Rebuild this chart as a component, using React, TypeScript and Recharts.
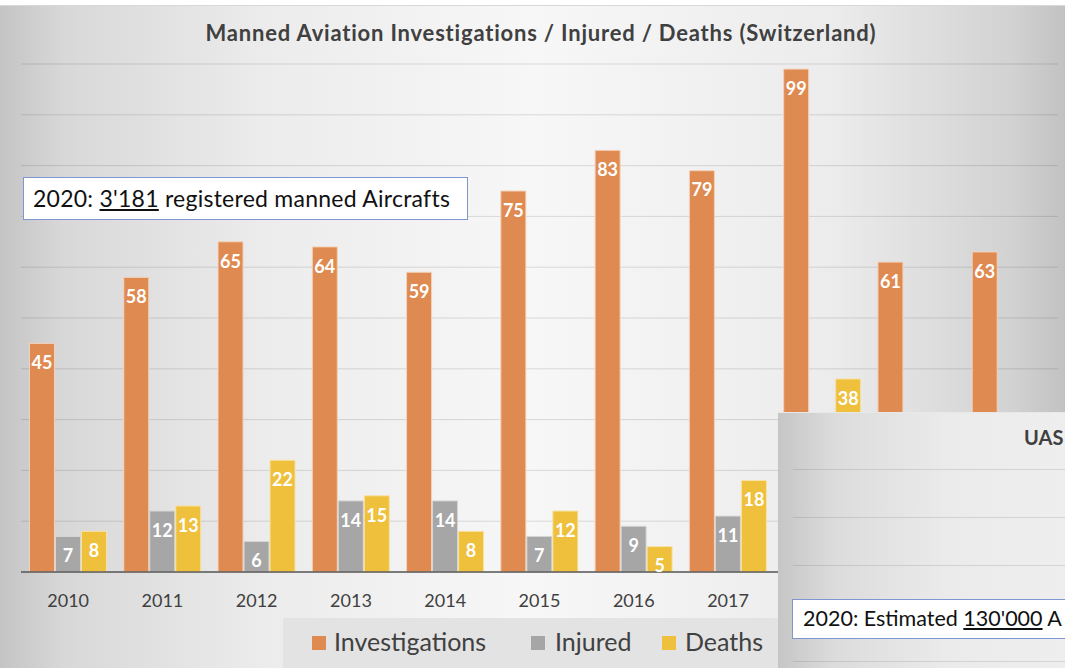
import { BarChart, Bar, XAxis, YAxis, CartesianGrid, LabelList } from 'recharts';

const years = ['2010', '2011', '2012', '2013', '2014', '2015', '2016', '2017', '2018', '2019', '2020'];
const investigations = [45, 58, 65, 64, 59, 75, 83, 79, 99, 61, 63];
// values hidden behind the UAS chart are left empty
const injured = [7, 12, 6, 14, 14, 7, 9, 11, null, null, null];
const deaths = [8, 13, 22, 15, 8, 12, 5, 18, 38, null, null];
const yTicks = [0, 10, 20, 30, 40, 50, 60, 70, 80, 90, 100];
// year labels covered by the UAS chart in the screenshot
const hiddenYears = ['2018', '2019', '2020'];

const legendItems = [
  { name: 'Investigations', color: '#df8a50', left: 29, textLeft: 51 },
  { name: 'Injured', color: '#a6a6a6', left: 248, textLeft: 272 },
  { name: 'Deaths', color: '#eec03c', left: 379, textLeft: 402 },
];

const data = years.map((year, i) => ({
  year,
  investigations: investigations[i],
  injured: injured[i],
  deaths: deaths[i],
}));

const FONT = 'Lato, "Open Sans", sans-serif';

function YearTick({ x, y, payload }: any) {
  if (hiddenYears.includes(payload.value)) return null;
  return (
    <text x={x} y={y + 14} dy="0.71em" textAnchor="middle" fill="#404040" fontSize={18} fontFamily={FONT}>
      {payload.value}
    </text>
  );
}

export default function App() {
  const label = { fill: '#fff', fontSize: 18, fontWeight: 700, fontFamily: FONT };
  return (
    <div
      style={{
        position: 'fixed',
        left: 0,
        top: 0,
        width: 1065,
        height: 668,
        overflow: 'hidden',
        background: '#fff',
        fontFamily: FONT,
      }}
    >
      {/* chart area background */}
      <div
        style={{
          position: 'absolute',
          left: 0,
          top: 5,
          width: 1065,
          height: 663,
          borderTop: '1px solid #d8d8d8',
          background:
            'linear-gradient(to right, #c4c4c4 0%, #d8d8d8 6%, #ececec 25%, #f7f7f7 50%, #ececec 78%, #d2d2d2 95%, #c2c2c2 100%)',
        }}
      />
      <div style={{ position: 'absolute', left: 0, top: 0 }}>
        <BarChart
          width={1065}
          height={668}
          data={data}
          margin={{ top: 64, right: 7, bottom: 66, left: 21 }}
          barCategoryGap="9%"
          barGap={1}
        >
          <CartesianGrid vertical={false} stroke="rgba(0,0,0,0.12)" />
          <YAxis hide domain={[0, 100]} ticks={yTicks} />
          <XAxis
            dataKey="year"
            height={30}
            tickLine={false}
            axisLine={{ stroke: '#595959', strokeWidth: 1.5 }}
            tick={<YearTick />}
            interval={0}
          />
          <Bar dataKey="investigations" fill="#df8a50" stroke="#f3d2bb" strokeWidth={1} isAnimationActive={false}>
            <LabelList dataKey="investigations" position="insideTop" offset={13} style={label} />
          </Bar>
          <Bar dataKey="injured" fill="#a6a6a6" stroke="#d6d6d6" strokeWidth={1} isAnimationActive={false}>
            <LabelList dataKey="injured" position="insideTop" offset={13} style={label} />
          </Bar>
          <Bar dataKey="deaths" fill="#eec03c" stroke="#f7e2a6" strokeWidth={1} isAnimationActive={false}>
            <LabelList dataKey="deaths" position="insideTop" offset={13} style={label} />
          </Bar>
        </BarChart>
      </div>

      {/* title */}
      <div
        style={{
          position: 'absolute',
          left: 0,
          top: 19,
          width: 1082,
          textAlign: 'center',
          fontSize: 22,
          letterSpacing: 0.8,
          fontWeight: 700,
          color: '#404040',
        }}
      >
        Manned Aviation Investigations / Injured / Deaths (Switzerland)
      </div>

      {/* annotation */}
      <div
        style={{
          position: 'absolute',
          left: 23,
          top: 177,
          width: 445,
          height: 43,
          boxSizing: 'border-box',
          border: '1.5px solid #7f97cf',
          background: '#fff',
          fontSize: 23,
          letterSpacing: 0.25,
          lineHeight: '40px',
          paddingLeft: 9,
          color: '#111',
          whiteSpace: 'nowrap',
        }}
      >
        2020: <span style={{ textDecoration: 'underline' }}>3'181</span> registered manned Aircrafts
      </div>

      {/* legend */}
      <div
        style={{
          position: 'absolute',
          left: 283,
          top: 618,
          width: 495,
          height: 50,
          background: '#e3e3e3',
          fontSize: 25,
          color: '#404040',
        }}
      >
        {legendItems.map((item) => (
          <div key={item.name}>
            <div style={{ position: 'absolute', left: item.left, top: 18, width: 14, height: 14, background: item.color }} />
            <span style={{ position: 'absolute', left: item.textLeft, top: 8, lineHeight: '30px' }}>{item.name}</span>
          </div>
        ))}
      </div>

      {/* overlapping UAS chart */}
      <div
        style={{
          position: 'absolute',
          left: 778,
          top: 412,
          width: 287,
          height: 256,
          overflow: 'hidden',
          background: 'linear-gradient(to right, #c6c6c6 0%, #dcdcdc 20%, #ebebeb 60%, #eeeeee 100%)',
          borderTop: '1px solid #e8e8e8',
        }}
      >
        {[56, 104, 152, 200, 248].map((y) => (
          <div
            key={y}
            style={{ position: 'absolute', left: 15, right: 0, top: y, height: 1, background: 'rgba(0,0,0,0.1)' }}
          />
        ))}
        <div
          style={{ position: 'absolute', left: 246, top: 12, fontSize: 20, fontWeight: 700, color: '#404040', whiteSpace: 'nowrap' }}
        >
          UAS
        </div>
        <div
          style={{
            position: 'absolute',
            left: 14,
            top: 186,
            width: 300,
            height: 40,
            boxSizing: 'border-box',
            border: '1.5px solid #7f97cf',
            background: '#fff',
            fontSize: 21.5,
            lineHeight: '37px',
            paddingLeft: 10,
            color: '#111',
            whiteSpace: 'nowrap',
          }}
        >
          2020: Estimated <span style={{ textDecoration: 'underline' }}>130'000</span> A
        </div>
      </div>
    </div>
  );
}
